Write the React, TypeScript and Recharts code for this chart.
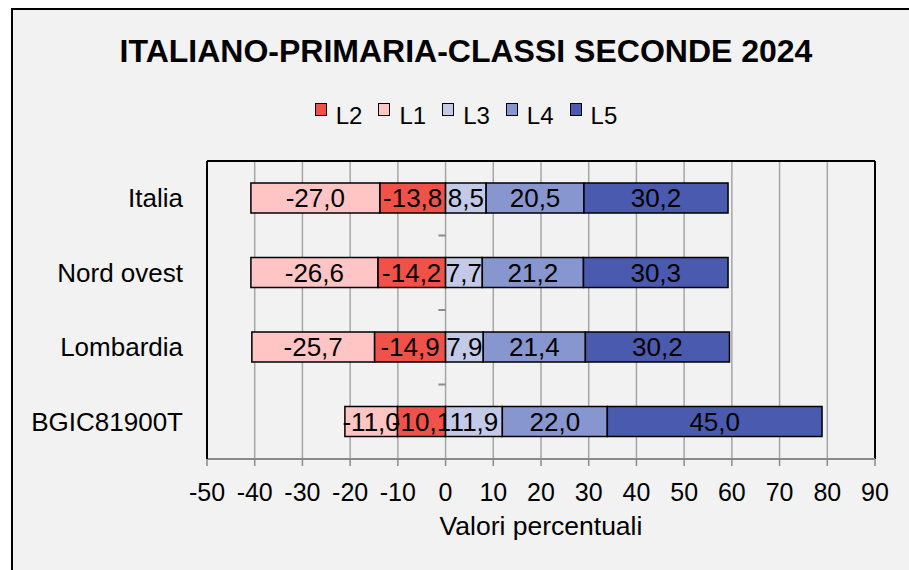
import React from 'react';
import {
  BarChart,
  Bar,
  XAxis,
  YAxis,
  CartesianGrid,
  ReferenceLine,
  LabelList,
} from 'recharts';

// Livelli di apprendimento, valori in percentuale (L1/L2 a sinistra dello zero)
const categories = ['Italia', 'Nord ovest', 'Lombardia', 'BGIC81900T'];
const L2 = [-13.8, -14.2, -14.9, -10.1];
const L1 = [-27.0, -26.6, -25.7, -11.0];
const L3 = [8.5, 7.7, 7.9, 11.9];
const L4 = [20.5, 21.2, 21.4, 22.0];
const L5 = [30.2, 30.3, 30.2, 45.0];
const xTicks = [-50, -40, -30, -20, -10, 0, 10, 20, 30, 40, 50, 60, 70, 80, 90];

const series = [
  { key: 'L2', color: '#F0524A' },
  { key: 'L1', color: '#FFC5C5' },
  { key: 'L3', color: '#C3CAE8' },
  { key: 'L4', color: '#8796CE' },
  { key: 'L5', color: '#4A5AAE' },
];

const data = categories.map((name, i) => ({
  name,
  L2: L2[i],
  L1: L1[i],
  L3: L3[i],
  L4: L4[i],
  L5: L5[i],
}));

const fmt = (v: any) => Number(v).toFixed(1).replace('.', ',');

const FONT = '"Liberation Sans", Arial, sans-serif';
const GRID = '#a6a6a6';
const AXIS = '#8a8a8a';

function LegendRow() {
  return (
    <div
      style={{
        position: 'absolute',
        top: 94,
        left: 0,
        width: '100%',
        display: 'flex',
        justifyContent: 'center',
        fontSize: 24,
        lineHeight: '24px',
      }}
    >
      {series.map((s, i) => (
        <div
          key={s.key}
          style={{ display: 'flex', alignItems: 'flex-start', marginRight: i < series.length - 1 ? 16 : 0 }}
        >
          <span
            style={{
              display: 'inline-block',
              width: 12,
              height: 13,
              marginTop: -1,
              marginRight: 9,
              boxSizing: 'border-box',
              border: '1.5px solid #000',
              background: s.color,
            }}
          />
          <span>{s.key}</span>
        </div>
      ))}
    </div>
  );
}

export default function App() {
  return (
    <div
      style={{
        position: 'absolute',
        left: 0,
        top: 0,
        width: 909,
        height: 570,
        overflow: 'hidden',
        background: '#fff',
        fontFamily: FONT,
        color: '#000',
      }}
    >
      <div
        style={{
          position: 'absolute',
          left: 11,
          top: 8,
          width: 910,
          height: 600,
          boxSizing: 'border-box',
          border: '2px solid #000',
          background: '#f2f2f2',
        }}
      >
        <div
          style={{
            position: 'absolute',
            top: 25,
            left: 0,
            width: '100%',
            textAlign: 'center',
            fontSize: 32,
            lineHeight: '32px',
            fontWeight: 'bold',
          }}
        >
          ITALIANO-PRIMARIA-CLASSI SECONDE 2024
        </div>
        <LegendRow />
      </div>

      <div style={{ position: 'absolute', left: 0, top: 0 }}>
        <BarChart
          width={909}
          height={570}
          data={data}
          layout="vertical"
          stackOffset="sign"
          barSize={30}
          margin={{ top: 161, right: 34, left: 0, bottom: 0 }}
        >
          <CartesianGrid horizontal={false} stroke={GRID} strokeWidth={1.5} />
          <XAxis
            type="number"
            domain={[-50, 90]}
            ticks={xTicks}
            interval={0}
            allowDataOverflow
            height={111}
            tickSize={7}
            tickMargin={17}
            axisLine={{ stroke: AXIS, strokeWidth: 2 }}
            tickLine={{ stroke: AXIS, strokeWidth: 1.5 }}
            tick={{ fontSize: 25, fill: '#000' }}
            label={{
              value: 'Valori percentuali',
              position: 'insideBottom',
              offset: 35,
              fontSize: 26.5,
              fill: '#000',
            }}
          />
          <YAxis
            type="category"
            dataKey="name"
            width={207}
            tickLine={false}
            tickSize={0}
            tickMargin={24}
            axisLine={{ stroke: '#000', strokeWidth: 2 }}
            tick={{ fontSize: 26, fill: '#000' }}
          />

          {series.map((s) => (
            <Bar
              key={s.key}
              dataKey={s.key}
              name={s.key}
              stackId="a"
              fill={s.color}
              stroke="#000"
              strokeWidth={1.5}
              isAnimationActive={false}
            >
              <LabelList dataKey={s.key} position="center" formatter={fmt} fontSize={26} fill="#000" />
            </Bar>
          ))}

          {/* piccole tacche dell'asse categorie sullo zero, tra una categoria e l'altra */}
          {categories.slice(0, -1).map((c) => (
            <ReferenceLine
              key={c}
              segment={[{ x: -1.5, y: c }, { x: 0, y: c }]}
              position="end"
              stroke={AXIS}
              strokeWidth={2}
            />
          ))}
          {/* bordo superiore e destro dell'area del grafico */}
          <ReferenceLine y={categories[0]} position="start" stroke="#000" strokeWidth={2} />
          <ReferenceLine x={90} stroke="#000" strokeWidth={2} />
        </BarChart>
      </div>
    </div>
  );
}
